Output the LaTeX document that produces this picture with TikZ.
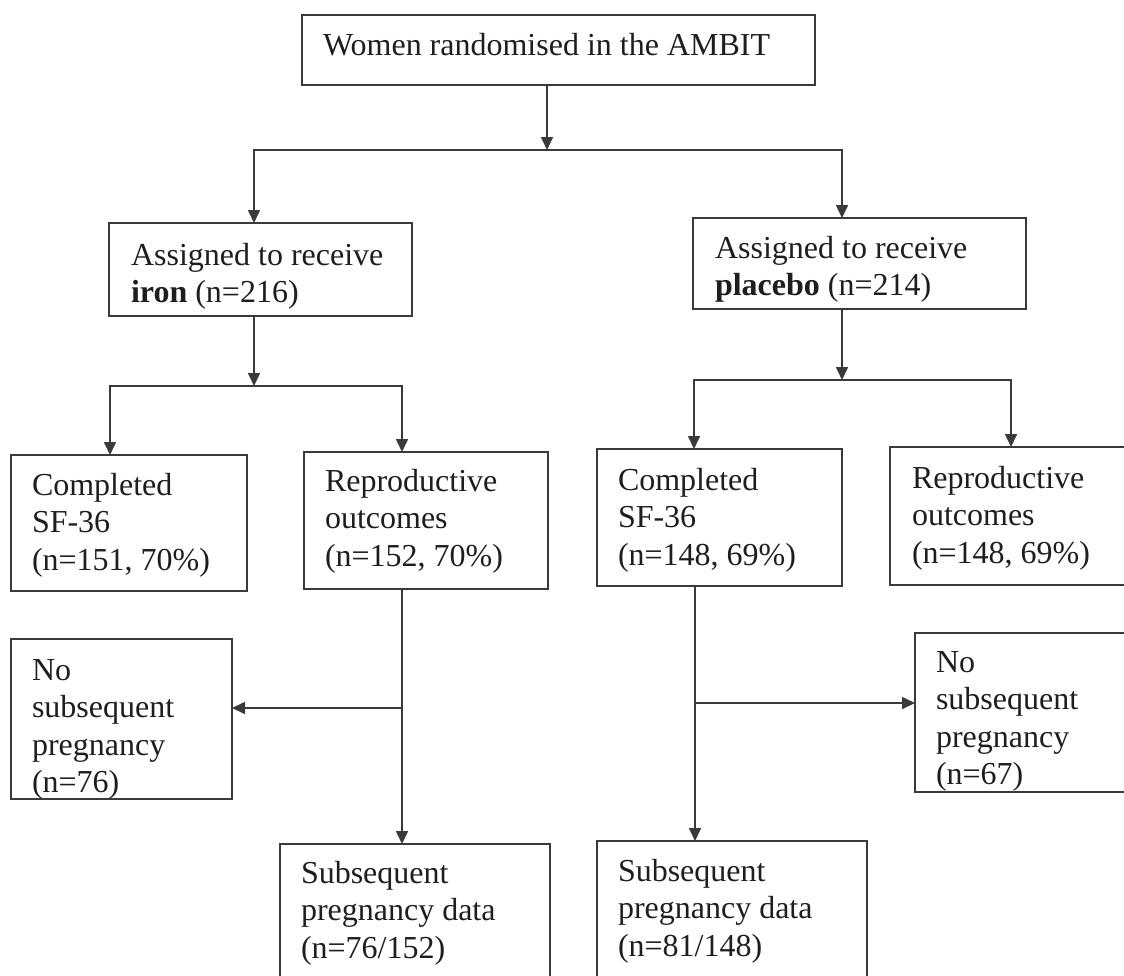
\documentclass[tikz,border=0pt]{standalone}
\usepackage{fontspec}
\setmainfont{Liberation Serif}
\usetikzlibrary{arrows.meta}
\definecolor{lncol}{HTML}{3A3A3A}
\definecolor{txcol}{HTML}{1E1E1E}
\begin{document}
\begin{tikzpicture}[x=1pt,y=-1pt,
  box/.style={draw=lncol, line width=1.6pt, inner sep=0pt, outer sep=0pt, anchor=north west},
  txt/.style={text=txcol, inner sep=0pt, outer sep=0pt, anchor=north west, align=left, font=\fontsize{32}{37.5}\selectfont},
  conn/.style={draw=lncol, line width=1.6pt, line cap=rect},
  arr/.style={draw=lncol, line width=1.6pt, line cap=rect, -{Triangle[length=13pt,width=12pt]}}]
\useasboundingbox (0,0) rectangle (1124,975);
\clip (0,0) rectangle (1124,975);
% boxes
\node[box, minimum width=513pt, minimum height=70pt]  (top)     at (302,15)  {};
\node[box, minimum width=303pt, minimum height=93pt]  (iron)    at (109,223) {};
\node[box, minimum width=333pt, minimum height=91pt]  (placebo) at (693,218) {};
\node[box, minimum width=236pt, minimum height=136pt] (compL)   at (11,455)  {};
\node[box, minimum width=244pt, minimum height=137pt] (reproL)  at (304,452) {};
\node[box, minimum width=245pt, minimum height=137pt] (compR)   at (597,449) {};
\node[box, minimum width=260pt, minimum height=138pt] (reproR)  at (890,447) {};
\node[box, minimum width=221pt, minimum height=160pt] (noL)     at (11,639)  {};
\node[box, minimum width=230pt, minimum height=159pt] (noR)     at (915,633) {};
\node[box, minimum width=270pt, minimum height=150pt] (subL)    at (280,844) {};
\node[box, minimum width=270pt, minimum height=150pt] (subR)    at (597,841) {};
% texts
\node[txt] (ttop)     at (323,28.75)  {\strut Women randomised in the AMBIT};
\node[txt] (tiron)    at (131,238.75) {\strut Assigned to receive\\\textbf{iron} (n=216)};
\node[txt] (tplacebo) at (715,231.75) {\strut Assigned to receive\\\textbf{placebo} (n=214)};
\node[txt] (tcompL)   at (32,468.75)  {\strut Completed\\SF-36\\(n=151, 70\%)};
\node[txt] (treproL)  at (325,465)    {\strut Reproductive\\outcomes\\(n=152, 70\%)};
\node[txt] (tcompR)   at (618,463.75) {\strut Completed\\SF-36\\(n=148, 69\%)};
\node[txt] (treproR)  at (912,461.75) {\strut Reproductive\\outcomes\\(n=148, 69\%)};
\node[txt] (tnoL)     at (32,653.75)  {\strut No\\subsequent\\pregnancy\\(n=76)};
\node[txt] (tnoR)     at (936,645.75) {\strut No\\subsequent\\pregnancy\\(n=67)};
\node[txt] (tsubL)    at (301,856.75) {\strut Subsequent\\pregnancy data\\(n=76/152)};
\node[txt] (tsubR)    at (618,854.75) {\strut Subsequent\\pregnancy data\\(n=81/148)};
% connectors: level 1
\coordinate (a1) at (547,150);
\coordinate (b1L) at (254,150);
\coordinate (b1R) at (842,150);
\draw[arr] (a1 |- top.south) -- (a1);
\draw[conn] (b1L) -- (b1R);
\draw[arr] (b1L) -- (b1L |- iron.north);
\draw[arr] (b1R) -- (b1R |- placebo.north);
% level 2 left
\coordinate (a2) at (254,386);
\coordinate (b2L) at (110,386);
\coordinate (b2R) at (402,386);
\draw[arr] (a2 |- iron.south) -- (a2);
\draw[conn] (b2L) -- (b2R);
\draw[arr] (b2L) -- (b2L |- compL.north);
\draw[arr] (b2R) -- (b2R |- reproL.north);
% level 2 right
\coordinate (a3) at (842,380);
\coordinate (b3L) at (694,380);
\coordinate (b3R) at (1011,380);
\draw[arr] (a3 |- placebo.south) -- (a3);
\draw[conn] (b3L) -- (b3R);
\draw[arr] (b3L) -- (b3L |- compR.north);
\draw[arr] (b3R) -- (b3R |- reproR.north);
% level 3
\coordinate (c1) at (402,708);
\draw[arr] (c1 |- reproL.south) -- (c1 |- subL.north);
\draw[arr] (c1) -- (c1 -| noL.east);
\coordinate (c2) at (695,703);
\draw[arr] (c2 |- compR.south) -- (c2 |- subR.north);
\draw[arr] (c2) -- (c2 -| noR.west);
\end{tikzpicture}
\end{document}
